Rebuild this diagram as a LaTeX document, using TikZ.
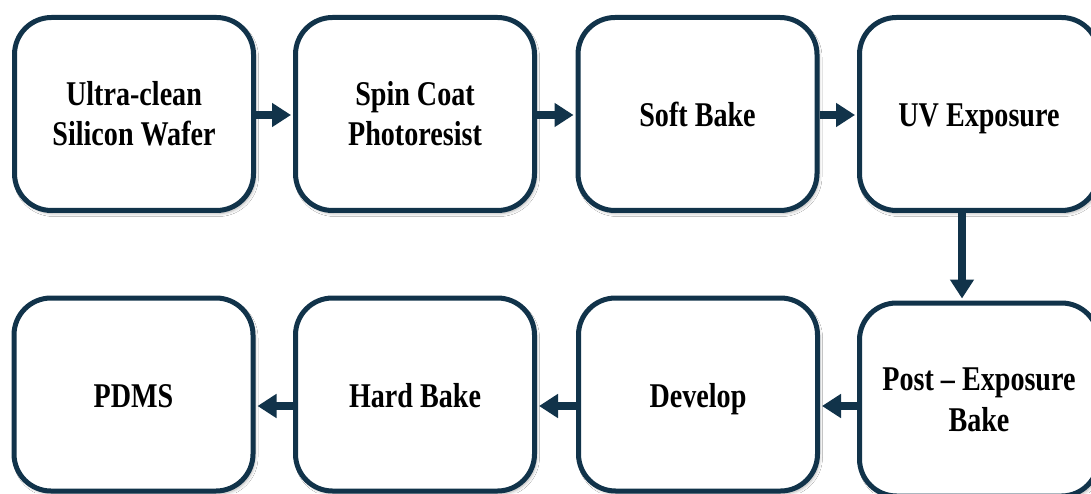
\documentclass[tikz,border=0pt]{standalone}
\usepackage{fontspec}
\newfontfamily\boxfont{Liberation Serif}[FakeStretch=0.81]
\usetikzlibrary{arrows.meta,shadows.blur}
\definecolor{navy}{HTML}{11334A}
\tikzset{
  stepbox/.style={draw=navy, line width=5pt, rounded corners=37pt, fill=white,
    minimum width=239pt, minimum height=193pt, inner sep=0pt, align=center,
    font=\boxfont\bfseries\fontsize{34.7}{40}\selectfont,
    blur shadow={shadow xshift=2pt, shadow yshift=-3pt, shadow opacity=30, shadow blur steps=6, shadow blur radius=3pt}},
  oneline/.style={text height=26pt, text depth=0pt},
  flow/.style={draw=navy, line width=8pt, -{Triangle[length=19pt, width=23pt]}, shorten >=2pt}
}
\begin{document}
\begin{tikzpicture}[x=1pt,y=1pt]
\useasboundingbox (0,0) rectangle (1091,493);
\clip (0,0) rectangle (1091,493);
\fill[white] (0,0) rectangle (1091,493);
\node[stepbox] (a) at (134,379) {Ultra-clean\\Silicon Wafer};
\node[stepbox] (b) at (415,379) {Spin Coat\\Photoresist};
\node[stepbox, oneline] (c) at (697.5,379) {Soft Bake};
\node[stepbox, oneline] (d) at (979,379) {UV Exposure};
\node[stepbox, font=\boxfont\bfseries\fontsize{34.7}{41}\selectfont] (e) at (979,93.5) {Post – Exposure\\Bake};
\node[stepbox, oneline] (f) at (698,98.5) {Develop};
\node[stepbox, oneline] (g) at (415,98.5) {Hard Bake};
\node[stepbox, oneline] (h) at (133.5,98.5) {PDMS};
\draw[flow] ([yshift=-1pt]a.east) -- ([yshift=-1pt]b.west);
\draw[flow] ([yshift=-1pt]b.east) -- ([yshift=-1pt]c.west);
\draw[flow] ([yshift=-1pt]c.east) -- ([yshift=-1pt]d.west);
\draw[flow] ([xshift=-17pt]d.south) -- ([xshift=-17pt]e.north);
\draw[flow] ([yshift=-6.5pt]e.west) -- ([yshift=-11.5pt]f.east);
\draw[flow] ([yshift=-11.5pt]f.west) -- ([yshift=-11.5pt]g.east);
\draw[flow] ([yshift=-11.5pt]g.west) -- ([yshift=-11.5pt]h.east);
\end{tikzpicture}
\end{document}
